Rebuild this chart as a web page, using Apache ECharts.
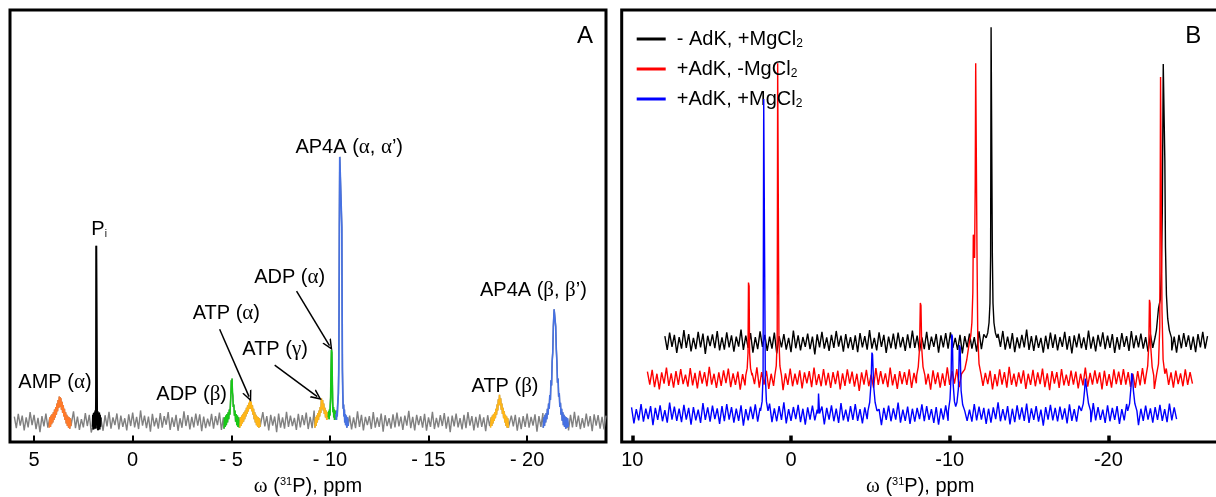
<!DOCTYPE html>
<html><head><meta charset="utf-8">
<script src="https://cdn.jsdelivr.net/npm/echarts@6/dist/echarts.min.js"></script>
<style>html,body{margin:0;padding:0;background:#fff}#c{width:1216px;height:497px}</style>
</head><body><div id="c"></div>
<script>
// ================= DATA =================
// Panel A: x ticks (ppm) and their labels
const ticksA = [5, 0, -5, -10, -15, -20];
const tickLabelsA = ['5', '0', '- 5', '- 10', '- 15', '- 20'];
// Panel B: x ticks
const ticksB = [10, 0, -10, -20];
const tickLabelsB = ['10', '0', '-10', '-20'];

// Panel A baseline noise (intensity, arbitrary units) sampled from 6.0 ppm in -0.1 ppm steps
const noiseA_start = 6.0, noiseA_step = -0.1;
const noiseA = [
12,-15,18,-9,14,-20,10,-13,22,-8,16,-17,9,-24,13,-11,19,-14,7,-18,
15,-10,21,-16,8,-12,17,-22,11,-9,24,-15,12,-19,6,-13,20,-10,16,-25,
9,-14,18,-7,13,-21,15,-11,23,-16,10,-8,19,-18,14,-12,8,-20,17,-10,
21,-13,11,-17,26,-9,14,-15,12,-23,18,-11,9,-16,20,-14,13,-7,22,-19,
10,-12,16,-21,8,-14,24,-10,15,-18,11,-13,19,-9,17,-22,12,-15,7,-11,
18,-16,13,-8,21,-19,10,-14,15,-12,25,-17,9,-10,16,-23,14,-13,20,-9,
11,-18,17,-12,8,-15,22,-11,13,-20,16,-9,12,-24,19,-14,10,-16,23,-12,
14,-10,9,-19,18,-13,15,-8,21,-17,11,-15,26,-12,13,-21,17,-10,8,-14,
20,-16,12,-11,15,-22,9,-13,18,-9,14,-18,10,-15,24,-12,16,-20,11,-8,
13,-17,22,-14,10,-12,19,-23,15,-10,8,-16,17,-13,21,-11,12,-19,14,-9,
25,-15,11,-20,16,-8,13,-14,18,-21,10,-12,23,-17,9,-13,15,-10,20,-16,
12,-24,14,-11,19,-13,8,-18,16,-15,22,-9,13,-20,11,-14,17,-12,10,-22,
15,-10,21,-16,9,-13,18,-19,12,-8,24,-15,14,-11,16,-21,10,-17,13,-12,
19,-14,11,-9,17,-23,13,-12,20,-16,9,-18,15,-10,22,-13,12,-15,18,-11,
10,-20,16,-13,23,-12,14,-17,8,-14,19,-11,13,-22,17,-9,15,-16,11,-18,
14];

// Panel A peaks: [ppm, intensity]
const peakAMP = [[4.23,-14],[4.20,10],[4.17,-12],[4.14,14],[4.11,-6],[4.08,18],[4.05,-2],[4.02,22],[3.99,4],[3.96,28],[3.93,10],[3.90,34],[3.87,16],[3.84,42],[3.81,24],[3.78,50],[3.75,32],[3.72,58],[3.70,36],[3.68,57],[3.66,34],[3.64,54],[3.61,28],[3.58,46],[3.55,20],[3.52,38],[3.49,12],[3.46,30],[3.43,4],[3.40,22],[3.37,-4],[3.34,16],[3.31,-10],[3.28,12],[3.25,-14],[3.22,10],[3.19,-16],[3.16,8],[3.13,-10]];
const peakPi = [[2.03,-12],[2.01,16],[1.99,-18],[1.97,20],[1.95,-14],[1.93,22],[1.91,-16],[1.89,26],[1.87,-8],[1.855,60],[1.845,407],[1.825,407],[1.815,70],[1.80,-16],[1.78,24],[1.76,-20],[1.74,18],[1.72,-14],[1.70,21],[1.68,-18],[1.66,16],[1.64,-12],[1.62,10]];
const peakADPb = [[-4.63,-16],[-4.66,10],[-4.69,-12],[-4.72,14],[-4.75,-8],[-4.78,18],[-4.81,-2],[-4.84,22],[-4.87,6],[-4.90,28],[-4.93,16],[-4.96,44],[-4.98,62],[-5.00,96],[-5.02,74],[-5.04,100],[-5.06,68],[-5.08,60],[-5.10,34],[-5.13,40],[-5.16,14],[-5.19,26],[-5.22,0],[-5.25,18],[-5.28,-8],[-5.31,14],[-5.34,-12],[-5.37,10],[-5.41,-14]];
const peakATPa = [[-5.44,-14],[-5.47,10],[-5.50,-10],[-5.53,14],[-5.56,-4],[-5.59,18],[-5.62,0],[-5.65,22],[-5.68,6],[-5.71,26],[-5.74,12],[-5.77,32],[-5.80,18],[-5.83,38],[-5.86,24],[-5.89,44],[-5.92,30],[-5.95,50],[-5.98,30],[-6.01,46],[-6.04,24],[-6.07,38],[-6.10,16],[-6.13,30],[-6.16,6],[-6.19,22],[-6.22,-2],[-6.25,16],[-6.28,-8],[-6.31,12],[-6.34,-12],[-6.37,10],[-6.40,-14],[-6.43,8],[-6.46,-12]];
const peakATPg = [[-9.24,-14],[-9.27,10],[-9.30,-10],[-9.33,14],[-9.36,-2],[-9.39,20],[-9.42,4],[-9.45,26],[-9.48,12],[-9.51,34],[-9.54,20],[-9.57,54],[-9.60,30],[-9.63,50],[-9.66,26],[-9.69,42],[-9.72,18],[-9.75,32],[-9.78,10],[-9.81,26],[-9.84,4],[-9.87,22],[-9.90,8],[-9.915,18]];
const peakADPa = [[-9.92,10],[-9.94,24],[-9.96,6],[-9.98,28],[-10.00,14],[-10.02,38],[-10.04,56],[-10.06,120],[-10.08,166],[-10.10,160],[-10.12,96],[-10.14,46],[-10.16,22],[-10.18,34],[-10.20,10],[-10.22,28],[-10.24,4],[-10.26,26],[-10.28,6],[-10.305,24]];
const peakAP4Aa = [[-10.31,18],[-10.33,4],[-10.35,26],[-10.37,12],[-10.39,34],[-10.41,30],[-10.43,66],[-10.45,120],[-10.465,260],[-10.48,450],[-10.50,613],[-10.585,613],[-10.605,450],[-10.62,260],[-10.635,120],[-10.655,66],[-10.675,30],[-10.695,40],[-10.715,12],[-10.735,28],[-10.755,-2],[-10.78,18],[-10.80,-8],[-10.83,14],[-10.86,-14],[-10.89,10],[-10.93,-10]];
const peakATPb = [[-18.15,-14],[-18.18,10],[-18.21,-10],[-18.24,14],[-18.27,-4],[-18.30,18],[-18.33,2],[-18.36,22],[-18.39,8],[-18.42,30],[-18.45,16],[-18.48,40],[-18.51,26],[-18.54,52],[-18.57,38],[-18.60,62],[-18.63,38],[-18.66,54],[-18.69,28],[-18.72,42],[-18.75,18],[-18.78,32],[-18.81,8],[-18.84,24],[-18.87,-2],[-18.90,16],[-18.93,-10],[-18.96,12],[-18.99,-14],[-19.02,8],[-19.05,-14]];
const peakAP4Ab = [[-20.82,-14],[-20.85,10],[-20.88,-10],[-20.91,16],[-20.94,-2],[-20.97,20],[-21.00,6],[-21.03,30],[-21.06,16],[-21.09,42],[-21.12,30],[-21.15,62],[-21.18,50],[-21.21,96],[-21.24,84],[-21.27,140],[-21.30,160],[-21.33,220],[-21.37,260],[-21.41,260],[-21.45,220],[-21.48,168],[-21.51,140],[-21.54,90],[-21.57,100],[-21.60,58],[-21.63,66],[-21.66,34],[-21.69,44],[-21.72,16],[-21.75,30],[-21.78,2],[-21.81,22],[-21.84,-8],[-21.87,16],[-21.90,-12],[-21.93,12],[-21.96,-16],[-21.99,10],[-22.02,-14],[-22.05,8],[-22.09,-12]];

// Panel B noise, per spectrum (start ppm, step ppm)
const noiseK_start = 7.95, noiseK_step = -0.15;
const noiseK = [
14,-18,22,-11,17,-25,12,-15,28,-13,19,-21,10,-16,24,-12,20,-27,15,-9,
18,-14,26,-19,11,-17,23,-12,16,-22,13,-10,29,-18,15,-13,21,-24,12,-16,
25,-11,17,-20,13,-15,22,-26,14,-12,19,-17,10,-23,27,-14,16,-19,12,-11,
20,-16,13,-28,18,-12,24,-15,11,-20,17,-13,26,-10,15,-22,19,-14,12,-18,
16,-23,21,-12,14,-17,28,-15,10,-19,23,-11,17,-25,13,-14,20,-16,22,-12,
12,-20,18,-14,27,-13,15,-21,11,-16,24,-18,13,-11,19,-24,16,-12,21,-15,
23,-13,10,-18,17,-26,14,-12,20,-15,12,-22,25,-16,18,-10,13,-19,15,-14,
19,-11,26,-17,13,-15,21,-23,11,-14,17,-12,29,-18,14,-20,16,-13,10,-24,
15,-16,22,-13,18,-19,12,-11,24,-17,14,-26,16,-12,20,-14,11,-18,27,-15,
13,-21,17,-10,23,-16,15,-13,19,-25,12,-17,21,-11,14,-20,26,-14,16,-12,
20,-15,12,-22,18,-13,25,-17,11,-16,22,-12,15,-19,13,-24,17,-14,21,-11,
16,-18,13,-23,19,-12,24,-15,14];
const noiseR_start = 9.05, noiseR_step = -0.15;
const noiseR = [
17,-13,21,-19,12,-24,15,-11,26,-16,13,-20,18,-14,23,-12,10,-18,25,-15,
14,-22,19,-11,16,-17,28,-13,12,-21,15,-16,20,-10,24,-19,13,-14,17,-25,
11,-15,22,-18,14,-12,27,-20,16,-13,19,-23,12,-16,21,-11,18,-26,13,-14,
24,-17,12,-13,20,-22,15,-10,18,-19,26,-14,11,-17,23,-15,14,-21,16,-12,
19,-24,13,-16,22,-11,17,-18,12,-28,15,-13,21,-17,10,-20,25,-14,18,-12,
13,-19,26,-15,11,-23,18,-12,16,-14,22,-21,14,-10,19,-17,24,-13,12,-25,
20,-12,15,-20,13,-16,27,-14,18,-11,23,-19,12,-22,16,-15,21,-13,10,-18,
25,-16,14,-12,19,-24,11,-17,22,-13,16,-20,28,-14,12,-18,15,-11,20,-23,
12,-14,21,-17,15,-12,24,-19,13,-26,18,-11,16,-21,23,-15,10,-16,19,-13,
17,-22,12,-15,26,-18,14,-13,20,-11,15,-24,19,-16,11,-20,22,-12,17,-14,
23,-13,16,-19,12,-21,18,-15,25,-12,14,-17,20,-23,13,-16,11,-18,24,-14,
15,-20,19,-12,13,-17,22,-14,16,-11];
const noiseU_start = 10.05, noiseU_step = -0.15;
const noiseU = [
16,-21,12,-14,24,-17,13,-11,19,-25,15,-13,21,-16,10,-19,27,-12,18,-15,
13,-18,22,-12,15,-24,17,-14,11,-20,26,-13,16,-17,20,-11,14,-22,19,-16,
24,-12,17,-19,13,-15,21,-26,12,-14,18,-11,23,-17,15,-20,10,-13,25,-18,
14,-16,19,-13,28,-21,12,-15,17,-11,22,-18,13,-24,16,-12,20,-14,11,-19,
18,-23,15,-12,21,-16,13,-20,26,-14,11,-17,19,-13,24,-15,12,-21,16,-11,
22,-14,17,-18,12,-25,15,-13,20,-16,14,-12,27,-19,11,-15,18,-22,13,-17,
15,-11,23,-16,19,-13,12,-20,17,-24,14,-12,21,-15,16,-18,25,-11,13,-21,
20,-15,11,-17,24,-14,18,-12,15,-22,13,-19,16,-11,28,-16,12,-14,19,-23,
13,-18,21,-12,16,-15,25,-20,14,-13,19,-17,11,-26,17,-12,22,-14,15,-16,
18,-12,14,-21,23,-15,12,-17,20,-11,16,-24,13,-18,26,-14,17,-13,11,-20,
21,-16,15,-13,19,-22,12,-14,24,-17,16,-11,18,-25,13,-15,20,-12,14,-19,
17,-13,22,-15,12,-18,25,-14,16,-11];

// Panel B peaks: [ppm, intensity above own baseline]
const peaksK = [
  [[-12.30,10],[-12.40,22],[-12.48,45],[-12.54,90],[-12.58,200],[-12.61,729],[-12.66,729],[-12.69,200],[-12.73,90],[-12.79,45],[-12.88,22],[-12.98,10]],
  [[-22.95,12],[-23.03,28],[-23.10,55],[-23.16,78],[-23.22,82],[-23.28,100],[-23.34,160],[-23.40,300],[-23.46,644],[-23.52,644],[-23.56,420],[-23.60,220],[-23.66,110],[-23.74,55],[-23.84,28],[-23.98,10]]
];
const peaksR = [
  [[2.85,8],[2.76,25],[2.71,60],[2.68,223],[2.64,215],[2.61,60],[2.55,25],[2.46,8]],
  [[1.02,8],[0.93,30],[0.87,90],[0.84,731],[0.79,731],[0.76,90],[0.70,30],[0.60,8]],
  [[-7.92,8],[-8.02,28],[-8.10,70],[-8.15,176],[-8.19,170],[-8.24,70],[-8.32,28],[-8.44,8]],
  [[-10.80,8],[-10.95,22],[-11.08,45],[-11.18,70],[-11.26,90],[-11.33,100],[-11.40,130],[-11.46,200],[-11.49,334],[-11.53,334],[-11.57,280],[-11.61,450],[-11.64,731],[-11.69,731],[-11.72,300],[-11.77,100],[-11.85,35],[-11.98,10]],
  [[-22.38,8],[-22.48,30],[-22.55,80],[-22.59,183],[-22.63,175],[-22.68,70],[-22.76,28],[-22.86,8]],
  [[-23.06,10],[-23.16,35],[-23.24,120],[-23.29,699],[-23.34,699],[-23.38,160],[-23.45,45],[-23.56,12]]
];
const peaksU = [
  [[1.92,8],[1.82,30],[1.76,90],[1.72,730],[1.66,730],[1.62,90],[1.55,30],[1.45,8]],
  [[-1.70,2],[-1.735,48],[-1.765,48],[-1.80,2]],
  [[-4.85,8],[-4.96,28],[-5.04,70],[-5.10,143],[-5.14,138],[-5.21,65],[-5.30,28],[-5.42,8]],
  [[-9.92,8],[-10.02,35],[-10.09,90],[-10.13,185],[-10.17,180],[-10.22,70],[-10.30,30],[-10.38,18],[-10.46,28],[-10.55,60],[-10.61,160],[-10.66,155],[-10.72,55],[-10.82,22],[-10.95,8]],
  [[-18.30,8],[-18.42,25],[-18.50,55],[-18.55,83],[-18.60,80],[-18.66,50],[-18.75,25],[-18.88,8]],
  [[-21.22,8],[-21.34,25],[-21.42,60],[-21.47,95],[-21.52,90],[-21.58,55],[-21.67,25],[-21.80,8]]
];
const namesB = ['- AdK, +MgCl2', '+AdK, -MgCl2', '+AdK, +MgCl2'];

// ================= LAYOUT / STYLE =================
const offsetsB = [231, 146, 64];
const colorsB = ['#000000', '#ff0000', '#0000ff'];
const yMinA = -47, yMaxA = 953, yMinB = 0, yMaxB = 1000;
const tickLenUnits = 15;
const peakStylesA = [
  {d: peakAMP, c: '#ff7a2a', w: 1.5}, {d: peakPi, c: '#000000', w: 2},
  {d: peakADPb, c: '#17c817', w: 1.5}, {d: peakATPa, c: '#ffb619', w: 1.5},
  {d: peakATPg, c: '#ffb619', w: 1.5}, {d: peakADPa, c: '#17c817', w: 1.7},
  {d: peakAP4Aa, c: '#4671e3', w: 1.7}, {d: peakATPb, c: '#ffb619', w: 1.5},
  {d: peakAP4Ab, c: '#4671e3', w: 1.6}
];
const annotationsA = [
  {text: '{big|A}', x: -22.94, y: 891},
  {text: 'P{sub|i}', x: 1.70, y: 445},
  {text: 'AMP (α)', x: 3.94, y: 90},
  {text: 'ADP (β)', x: -2.99, y: 62},
  {text: 'ATP (α)', x: -4.75, y: 250},
  {text: 'ATP (γ)', x: -7.22, y: 168},
  {text: 'ADP (α)', x: -7.96, y: 334},
  {text: 'AP4A (α, α’)', x: -10.98, y: 635},
  {text: 'AP4A (β, β’)', x: -20.32, y: 303},
  {text: 'ATP (β)', x: -18.88, y: 81}
];
const annotationsB = [{text: '{big|B}', x: -25.35, y: 938}];
const arrowsA = [
  {x1: -4.41, y1: 214, x2: -5.90, y2: 58},
  {x1: -7.20, y1: 131, x2: -9.36, y2: 58},
  {x1: -8.31, y1: 302, x2: -9.98, y2: 176}
];

// ================= BUILD =================
function buildTrace(start, step, noise, peaks) {
  let pts = noise.map((v, i) => [+(start + i * step).toFixed(3), v]);
  peaks.forEach(p => {
    const xs = p.map(d => d[0]);
    const lo = Math.min(...xs), hi = Math.max(...xs);
    pts = pts.filter(d => d[0] < lo || d[0] > hi).concat(p);
  });
  pts.sort((a, b) => b[0] - a[0]);
  return pts;
}
const richify = s => s.replace(/([αβγω])/g, '{g|$1}');
const SANS = '"Liberation Sans", Arial, sans-serif';
const SERIF = '"Liberation Serif", "Times New Roman", serif';
const richCommon = {
  g: {fontFamily: SERIF, fontSize: 21, fill: '#000', color: '#000'},
  sub: {fontSize: 10, verticalAlign: 'bottom', lineHeight: 10, fontFamily: SANS, fill: '#000', color: '#000'},
  sup: {fontSize: 11, verticalAlign: 'top', lineHeight: 11, fontFamily: SANS, fill: '#000', color: '#000'},
  big: {fontSize: 24, fontFamily: SANS, fill: '#000', color: '#000'}
};

const traceA = buildTrace(noiseA_start, noiseA_step, noiseA, peakStylesA.map(p => p.d));
const tracesB = [
  buildTrace(noiseK_start, noiseK_step, noiseK, peaksK),
  buildTrace(noiseR_start, noiseR_step, noiseR, peaksR),
  buildTrace(noiseU_start, noiseU_step, noiseU, peaksU)
];

const chevron = 'path://M5,0 L10,10 L8.4,10 L5,3.2 L1.6,10 L0,10 Z';
const series = [];
series.push({type: 'line', name: 'A-baseline', xAxisIndex: 0, yAxisIndex: 0, data: traceA,
  showSymbol: false, symbol: 'none', lineStyle: {color: '#808080', width: 1.4}, itemStyle: {color: '#808080'}, z: 2, silent: true});
peakStylesA.forEach((p, i) => series.push({type: 'line', name: 'A-peak' + i, xAxisIndex: 0, yAxisIndex: 0, data: p.d,
  showSymbol: false, symbol: 'none', lineStyle: {color: p.c, width: p.w}, itemStyle: {color: p.c}, z: 3, silent: true}));
series.push({type: 'line', name: 'A-arrows', xAxisIndex: 0, yAxisIndex: 0, data: [], silent: true,
  markLine: {silent: true, symbol: ['none', chevron], symbolSize: [10, 11], animation: false,
    lineStyle: {color: '#000', width: 1.5, type: 'solid'}, label: {show: false},
    data: arrowsA.map(a => [{coord: [a.x1, a.y1]}, {coord: [a.x2, a.y2]}])}});
// inward tick marks along the bottom frame (start slightly inside the extent)
function tickSeries(name, xi, ticks, y0, width) {
  return {type: 'line', name: name, xAxisIndex: xi, yAxisIndex: xi, data: [], silent: true, z: 6,
    markLine: {silent: true, symbol: ['none', 'none'], animation: false,
      lineStyle: {color: '#000', width: width, type: 'solid'}, label: {show: false},
      data: ticks.map(t => [{coord: [t, y0 + 1]}, {coord: [t, y0 + tickLenUnits]}])}};
}
series.push(tickSeries('A-ticks', 0, ticksA, yMinA, 2));
tracesB.forEach((t, i) => series.push({type: 'line', name: namesB[i], xAxisIndex: 1, yAxisIndex: 1,
  data: t.map(d => [d[0], d[1] + offsetsB[i]]), color: colorsB[i],
  showSymbol: false, symbol: 'none', lineStyle: {color: colorsB[i], width: 1.4}, itemStyle: {color: colorsB[i]}, z: 2 + i, silent: true}));
series.push(tickSeries('B-ticks', 1, ticksB, yMinB, 3.5));

const axisName = richify('ω') + ' ({sup|31}P), ppm';
function xAxisCfg(grid, min, max, ticks, labels, namePad) {
  return {gridIndex: grid, type: 'value', min: min, max: max, inverse: true, position: 'bottom',
    axisLine: {show: false, onZero: false}, splitLine: {show: false}, axisTick: {show: false},
    axisLabel: {show: true, customValues: ticks, formatter: v => labels[ticks.indexOf(v)], fontSize: 20, fontFamily: SANS, color: '#000', margin: 8},
    name: axisName, nameLocation: 'middle', nameGap: 34,
    nameTextStyle: {fontSize: 20, fontFamily: SANS, color: '#000', padding: namePad, rich: richCommon}};
}

const option = {
  animation: false,
  backgroundColor: '#fff',
  grid: [
    {left: 10, top: 10, width: 596, height: 432, show: true, borderColor: '#000', borderWidth: 3, backgroundColor: 'transparent', containLabel: false, outerBoundsMode: 'none'},
    {left: 621.7, top: 10, width: 612, height: 432, show: true, borderColor: '#000', borderWidth: 3, backgroundColor: 'transparent', containLabel: false, outerBoundsMode: 'none'}
  ],
  xAxis: [
    xAxisCfg(0, -24.0, 6.22, ticksA, tickLabelsA, [0, 0, 0, 0]),
    xAxisCfg(1, -27.9, 10.67, ticksB, tickLabelsB, [0, 15, 0, 0])
  ],
  yAxis: [
    {gridIndex: 0, type: 'value', min: yMinA, max: yMaxA, show: false},
    {gridIndex: 1, type: 'value', min: yMinB, max: yMaxB, show: false}
  ],
  legend: {
    data: namesB, orient: 'vertical', left: 636.7, top: 28, itemWidth: 29, itemHeight: 3, itemGap: 8,
    icon: 'rect', selectedMode: false, padding: 0,
    formatter: n => '{sp|}' + n.replace('MgCl2', 'MgCl{sub|2}'),
    textStyle: {fontSize: 20, fontFamily: SANS, color: '#000', lineHeight: 22,
      rich: {sp: {width: 6}, sub: {fontSize: 12, verticalAlign: 'bottom', lineHeight: 12, fontFamily: SANS, color: '#000'}}}
  },
  series: series
};
const chart = echarts.init(document.getElementById('c'), null, {renderer: 'canvas'});
chart.setOption(option);

// text annotations placed through the axes' scales
function textEl(gridIndex, a, size) {
  const p = chart.convertToPixel({gridIndex: gridIndex}, [a.x, a.y]);
  return {type: 'text', x: p[0], y: p[1], z: 100, silent: true,
    style: {text: richify(a.text), fill: '#000', fontSize: size, fontFamily: SANS,
      align: 'center', verticalAlign: 'middle', rich: richCommon}};
}
chart.setOption({graphic: annotationsA.map(a => textEl(0, a, 20)).concat(annotationsB.map(a => textEl(1, a, 24)))});
</script></body></html>
